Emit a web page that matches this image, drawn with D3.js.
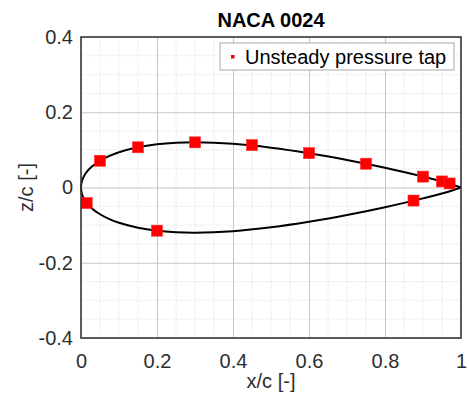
<!DOCTYPE html>
<html>
<head>
<meta charset="utf-8">
<script src="https://cdn.jsdelivr.net/npm/d3@7"></script>
<style>
  html, body { margin: 0; padding: 0; background: #fff; }
  svg { display: block; font-family: "Liberation Sans", Arial, sans-serif; }
</style>
</head>
<body>
<svg id="chart" width="469" height="400"></svg>
<script>
// NACA 0024 profile: chordwise stations and half-thickness (x/c, z/c)
const profileX = [0, 0.0025, 0.005, 0.0125, 0.025, 0.05, 0.075, 0.1, 0.15, 0.2, 0.25, 0.3,
                  0.4, 0.5, 0.6, 0.7, 0.8, 0.9, 0.95, 1.0];
const profileHalfThickness = [0, 0.01744, 0.02443, 0.03788, 0.05230, 0.07110, 0.08400, 0.09366,
                  0.10690, 0.11474, 0.11882, 0.12004, 0.11606, 0.10588, 0.09126, 0.07328,
                  0.05246, 0.02896, 0.01614, 0];

// Unsteady pressure taps
const tapX = [0.05, 0.15, 0.3, 0.45, 0.6, 0.75, 0.9, 0.95, 0.97, 0.015, 0.2, 0.875];
const tapZ = [0.0711, 0.1069, 0.1200, 0.1126, 0.0913, 0.0632, 0.0289, 0.0161, 0.0108,
              -0.0413, -0.1148, -0.0347];

const xTicks = [0, 0.2, 0.4, 0.6, 0.8, 1];
const yTicks = [-0.4, -0.2, 0, 0.2, 0.4];
const xTickLabels = ["0", "0.2", "0.4", "0.6", "0.8", "1"];
const yTickLabels = ["-0.4", "-0.2", "0", "0.2", "0.4"];
const minorStep = 0.05;

const titleText = "NACA 0024";
const xLabel = "x/c [-]";
const yLabel = "z/c [-]";
const legendLabel = "Unsteady pressure tap";

const plot = { left: 81, right: 461, top: 37, bottom: 338 };
const textColor = "#2e2e2e";

const svg = d3.select("#chart");
const x = d3.scaleLinear().domain([0, 1]).range([plot.left, plot.right]);
const y = d3.scaleLinear().domain([-0.4, 0.4]).range([plot.bottom, plot.top]);

// Minor grid (dotted)
const isMajor = v => Math.abs(v / 0.2 - Math.round(v / 0.2)) < 1e-6;
const minorX = d3.range(0, 1 + 1e-9, minorStep).filter(v => !isMajor(v));
const minorY = d3.range(-0.4, 0.4 + 1e-9, minorStep).filter(v => !isMajor(v));
const grid = svg.append("g");
grid.selectAll("line.mx").data(minorX).join("line")
  .attr("x1", d => x(d)).attr("x2", d => x(d))
  .attr("y1", plot.top).attr("y2", plot.bottom)
  .attr("stroke", "#d4d4d4").attr("stroke-width", 0.8).attr("stroke-dasharray", "1,1.5");
grid.selectAll("line.my").data(minorY).join("line")
  .attr("y1", d => y(d)).attr("y2", d => y(d))
  .attr("x1", plot.left).attr("x2", plot.right)
  .attr("stroke", "#d4d4d4").attr("stroke-width", 0.8).attr("stroke-dasharray", "1,1.5");

// Major grid via axes
const xGrid = d3.axisBottom(x).tickValues(xTicks).tickSize(-(plot.bottom - plot.top)).tickFormat("");
const yGrid = d3.axisLeft(y).tickValues(yTicks).tickSize(-(plot.right - plot.left)).tickFormat("");
svg.append("g").attr("transform", `translate(0,${plot.bottom})`).call(xGrid)
  .call(g => g.select(".domain").remove())
  .selectAll("line").attr("stroke", "#c6c6c6").attr("stroke-width", 1);
svg.append("g").attr("transform", `translate(${plot.left},0)`).call(yGrid)
  .call(g => g.select(".domain").remove())
  .selectAll("line").attr("stroke", "#c6c6c6").attr("stroke-width", 1);

// Tick labels
const xAxis = d3.axisBottom(x).tickValues(xTicks).tickSize(0).tickPadding(16)
  .tickFormat((d, i) => xTickLabels[i]);
const yAxis = d3.axisLeft(y).tickValues(yTicks).tickSize(0).tickPadding(8)
  .tickFormat((d, i) => yTickLabels[i]);
svg.append("g").attr("transform", `translate(0,${plot.bottom})`).call(xAxis)
  .call(g => g.select(".domain").remove())
  .selectAll("text").attr("font-size", 20).attr("fill", textColor)
  .attr("font-family", "Liberation Sans, Arial, sans-serif");
svg.append("g").attr("transform", `translate(${plot.left},0)`).call(yAxis)
  .call(g => g.select(".domain").remove())
  .selectAll("text").attr("font-size", 20).attr("fill", textColor)
  .attr("font-family", "Liberation Sans, Arial, sans-serif");

// Airfoil outline: upper surface TE→LE, then lower surface LE→TE
const outline = [];
for (let i = profileX.length - 1; i >= 0; i--) outline.push([profileX[i], profileHalfThickness[i]]);
for (let i = 1; i < profileX.length; i++) outline.push([profileX[i], -profileHalfThickness[i]]);
svg.append("path")
  .datum(outline)
  .attr("d", d3.line().x(d => x(d[0])).y(d => y(d[1])).curve(d3.curveCatmullRom.alpha(0.5)))
  .attr("fill", "none").attr("stroke", "#000").attr("stroke-width", 2);

// Pressure tap markers
const ms = 11;
svg.append("g").selectAll("rect").data(tapX.map((v, i) => [v, tapZ[i]])).join("rect")
  .attr("x", d => x(d[0]) - ms / 2).attr("y", d => y(d[1]) - ms / 2)
  .attr("width", ms).attr("height", ms)
  .attr("fill", "#ff0000").attr("stroke", "#ff2a2a").attr("stroke-width", 0.6);

// Axes box
svg.append("rect")
  .attr("x", plot.left).attr("y", plot.top)
  .attr("width", plot.right - plot.left).attr("height", plot.bottom - plot.top)
  .attr("fill", "none").attr("stroke", "#3a3a3a").attr("stroke-width", 1.6);

// Legend
const lg = svg.append("g");
lg.append("rect").attr("x", 220).attr("y", 43).attr("width", 234).attr("height", 27)
  .attr("fill", "#fff").attr("stroke", "#a8a8a8").attr("stroke-width", 1);
lg.append("rect").attr("x", 231).attr("y", 55).attr("width", 3.5).attr("height", 3.5).attr("fill", "#ff0000");
lg.append("text").attr("x", 245).attr("y", 63.5).attr("font-size", 20).attr("fill", "#000")
  .text(legendLabel);

// Title and axis labels
svg.append("text").attr("x", (plot.left + plot.right) / 2).attr("y", 27)
  .attr("text-anchor", "middle").attr("font-size", 20).attr("font-weight", "bold").attr("fill", "#000")
  .text(titleText);
svg.append("text").attr("x", (plot.left + plot.right) / 2).attr("y", 388)
  .attr("text-anchor", "middle").attr("font-size", 20).attr("fill", textColor)
  .text(xLabel);
svg.append("text").attr("transform", `translate(33,${y(0)}) rotate(-90)`)
  .attr("text-anchor", "middle").attr("font-size", 20).attr("fill", textColor)
  .text(yLabel);
</script>
</body>
</html>
